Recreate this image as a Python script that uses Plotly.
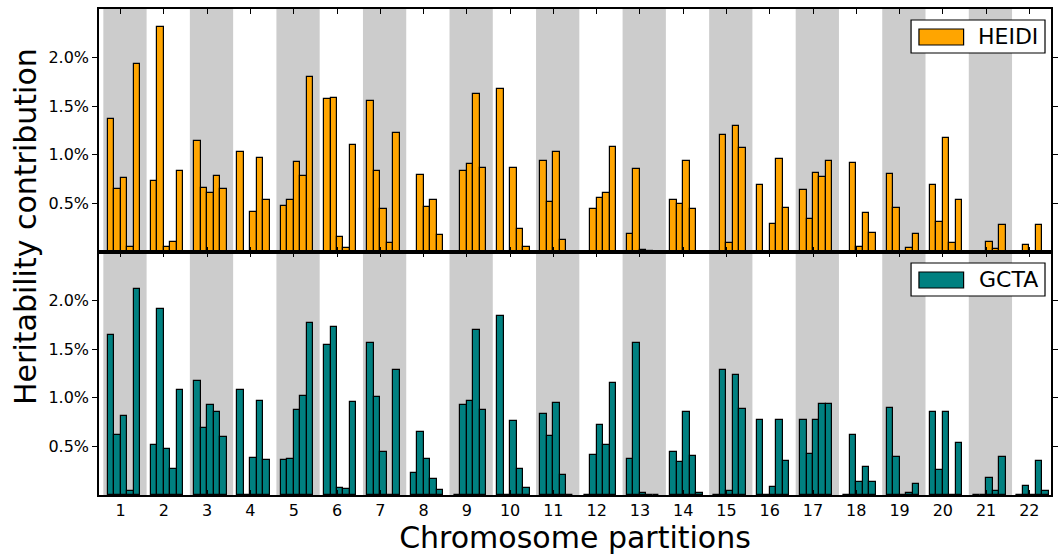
import plotly.graph_objects as go
from plotly.subplots import make_subplots

chromosomes = list(range(1, 23))
n_parts = 5

# Heritability contribution (%) per chromosome, 5 partitions each
heidi = [
    [1.37, 0.65, 0.76, 0.05, 1.93],   # 1
    [0.73, 2.31, 0.05, 0.10, 0.83],   # 2
    [1.14, 0.66, 0.61, 0.78, 0.65],   # 3
    [1.03, 0.00, 0.41, 0.97, 0.53],   # 4
    [0.47, 0.54, 0.93, 0.78, 1.80],   # 5
    [1.57, 1.58, 0.15, 0.04, 1.10],   # 6
    [1.55, 0.83, 0.44, 0.09, 1.22],   # 7
    [0.00, 0.79, 0.46, 0.53, 0.17],   # 8
    [0.00, 0.83, 0.91, 1.63, 0.86],   # 9
    [1.68, 0.00, 0.86, 0.24, 0.05],   # 10
    [0.94, 0.51, 1.03, 0.12, 0.00],   # 11
    [0.00, 0.44, 0.56, 0.61, 1.08],   # 12
    [0.19, 0.85, 0.02, 0.01, 0.00],   # 13
    [0.54, 0.49, 0.94, 0.44, 0.00],   # 14
    [0.00, 1.20, 0.09, 1.30, 1.07],   # 15
    [0.69, 0.00, 0.29, 0.96, 0.45],   # 16
    [0.64, 0.34, 0.81, 0.77, 0.94],   # 17
    [0.00, 0.92, 0.05, 0.40, 0.20],   # 18
    [0.80, 0.45, 0.00, 0.04, 0.19],   # 19
    [0.69, 0.31, 1.17, 0.09, 0.53],   # 20
    [0.00, 0.00, 0.10, 0.03, 0.28],   # 21
    [0.00, 0.07, 0.00, 0.28, 0.00],   # 22
]

gcta = [
    [1.65, 0.62, 0.81, 0.04, 2.12],   # 1
    [0.51, 1.91, 0.47, 0.27, 1.08],   # 2
    [1.17, 0.69, 0.93, 0.85, 0.60],   # 3
    [1.08, 0.00, 0.38, 0.97, 0.36],   # 4
    [0.36, 0.37, 0.87, 1.02, 1.77],   # 5
    [1.54, 1.73, 0.07, 0.06, 0.96],   # 6
    [1.56, 1.01, 0.44, 0.00, 1.29],   # 7
    [0.23, 0.65, 0.37, 0.16, 0.05],   # 8
    [0.00, 0.93, 0.97, 1.70, 0.87],   # 9
    [1.84, 0.00, 0.76, 0.27, 0.07],   # 10
    [0.83, 0.61, 0.95, 0.21, 0.00],   # 11
    [0.00, 0.41, 0.72, 0.51, 1.15],   # 12
    [0.37, 1.56, 0.02, 0.00, 0.00],   # 13
    [0.44, 0.34, 0.85, 0.40, 0.02],   # 14
    [0.00, 1.29, 0.04, 1.23, 0.88],   # 15
    [0.77, 0.00, 0.08, 0.77, 0.35],   # 16
    [0.77, 0.42, 0.77, 0.94, 0.94],   # 17
    [0.00, 0.62, 0.13, 0.29, 0.13],   # 18
    [0.90, 0.39, 0.00, 0.02, 0.11],   # 19
    [0.85, 0.26, 0.85, 0.00, 0.54],   # 20
    [0.00, 0.00, 0.17, 0.04, 0.39],   # 21
    [0.00, 0.09, 0.00, 0.35, 0.04],   # 22
]

series_names = ["HEIDI", "GCTA"]
series_colors = ["#FFA500", "#008080"]
ytick_vals = [0.5, 1.0, 1.5, 2.0]
ytick_text = ["0.5%", "1.0%", "1.5%", "2.0%"]

bar_w = 0.15
xs, flat_heidi, flat_gcta = [], [], []
for ci, c in enumerate(chromosomes):
    for j in range(n_parts):
        xs.append(c - 0.3 + j * bar_w + bar_w / 2)
        flat_heidi.append(heidi[ci][j])
        flat_gcta.append(gcta[ci][j])

fig = make_subplots(rows=2, cols=1, shared_xaxes=True, vertical_spacing=0)

for row, (name, vals, col) in enumerate(zip(series_names, [flat_heidi, flat_gcta], series_colors), start=1):
    fig.add_trace(go.Bar(x=xs, y=vals, width=bar_w, name=name,
                         marker=dict(color=col, line=dict(color="black", width=1.2)),
                         showlegend=False), row=row, col=1)

# alternating grey bands
shapes = []
for c in chromosomes:
    if c % 2 == 1:
        shapes.append(dict(type="rect", xref="x", yref="paper", x0=c - 0.4, x1=c + 0.6,
                           y0=0, y1=1, fillcolor="#cccccc", line=dict(width=0), layer="below"))

# manual legends
annotations = []
for k, (name, col) in enumerate(zip(series_names, series_colors)):
    off = 0.5 * (1 - k)
    shapes.append(dict(type="rect", xref="paper", yref="paper", x0=0.853, x1=0.9937,
                       y0=0.4095 + off, y1=0.4774 + off, fillcolor="white",
                       line=dict(color="black", width=1.2), layer="above"))
    shapes.append(dict(type="rect", xref="paper", yref="paper", x0=0.8613, x1=0.9082,
                       y0=0.4259 + off, y1=0.4588 + off, fillcolor=col,
                       line=dict(color="black", width=1.2), layer="above"))
    annotations.append(dict(text=name, xref="paper", yref="paper", x=0.9885, y=0.4424 + off,
                            xanchor="right", yanchor="middle", showarrow=False,
                            font=dict(size=22, color="black", family="DejaVu Sans")))

annotations.append(dict(text="Heritability contribution", xref="paper", yref="paper",
                        x=-0.077, y=0.553, xanchor="center", yanchor="middle", textangle=-90,
                        showarrow=False, font=dict(size=30, color="black", family="DejaVu Sans")))

fig.update_layout(
    width=1060, height=555,
    margin=dict(l=99, r=2, t=9, b=60),
    plot_bgcolor="white", paper_bgcolor="white",
    bargap=0, barmode="overlay",
    font=dict(family="DejaVu Sans", size=16, color="black"),
    shapes=shapes, annotations=annotations,
)

fig.update_xaxes(range=[0.5, 22.5], tickvals=chromosomes, ticktext=[str(c) for c in chromosomes],
                 ticks="inside", ticklen=5, tickwidth=1.2, tickcolor="black",
                 showline=True, linecolor="black", linewidth=1.5, mirror="ticks",
                 showgrid=False, zeroline=False)
fig.update_xaxes(showticklabels=False, row=1, col=1)
fig.update_xaxes(showticklabels=True, row=2, col=1,
                 title=dict(text="Chromosome partitions", font=dict(size=30), standoff=2))
fig.update_yaxes(range=[0, 2.5], tickvals=ytick_vals, ticktext=ytick_text,
                 ticks="outside", ticklen=5, tickwidth=1.2, tickcolor="black",
                 showline=True, linecolor="black", linewidth=1.5, mirror="ticks",
                 showgrid=False, zeroline=False)

fig.write_html("out.html")
